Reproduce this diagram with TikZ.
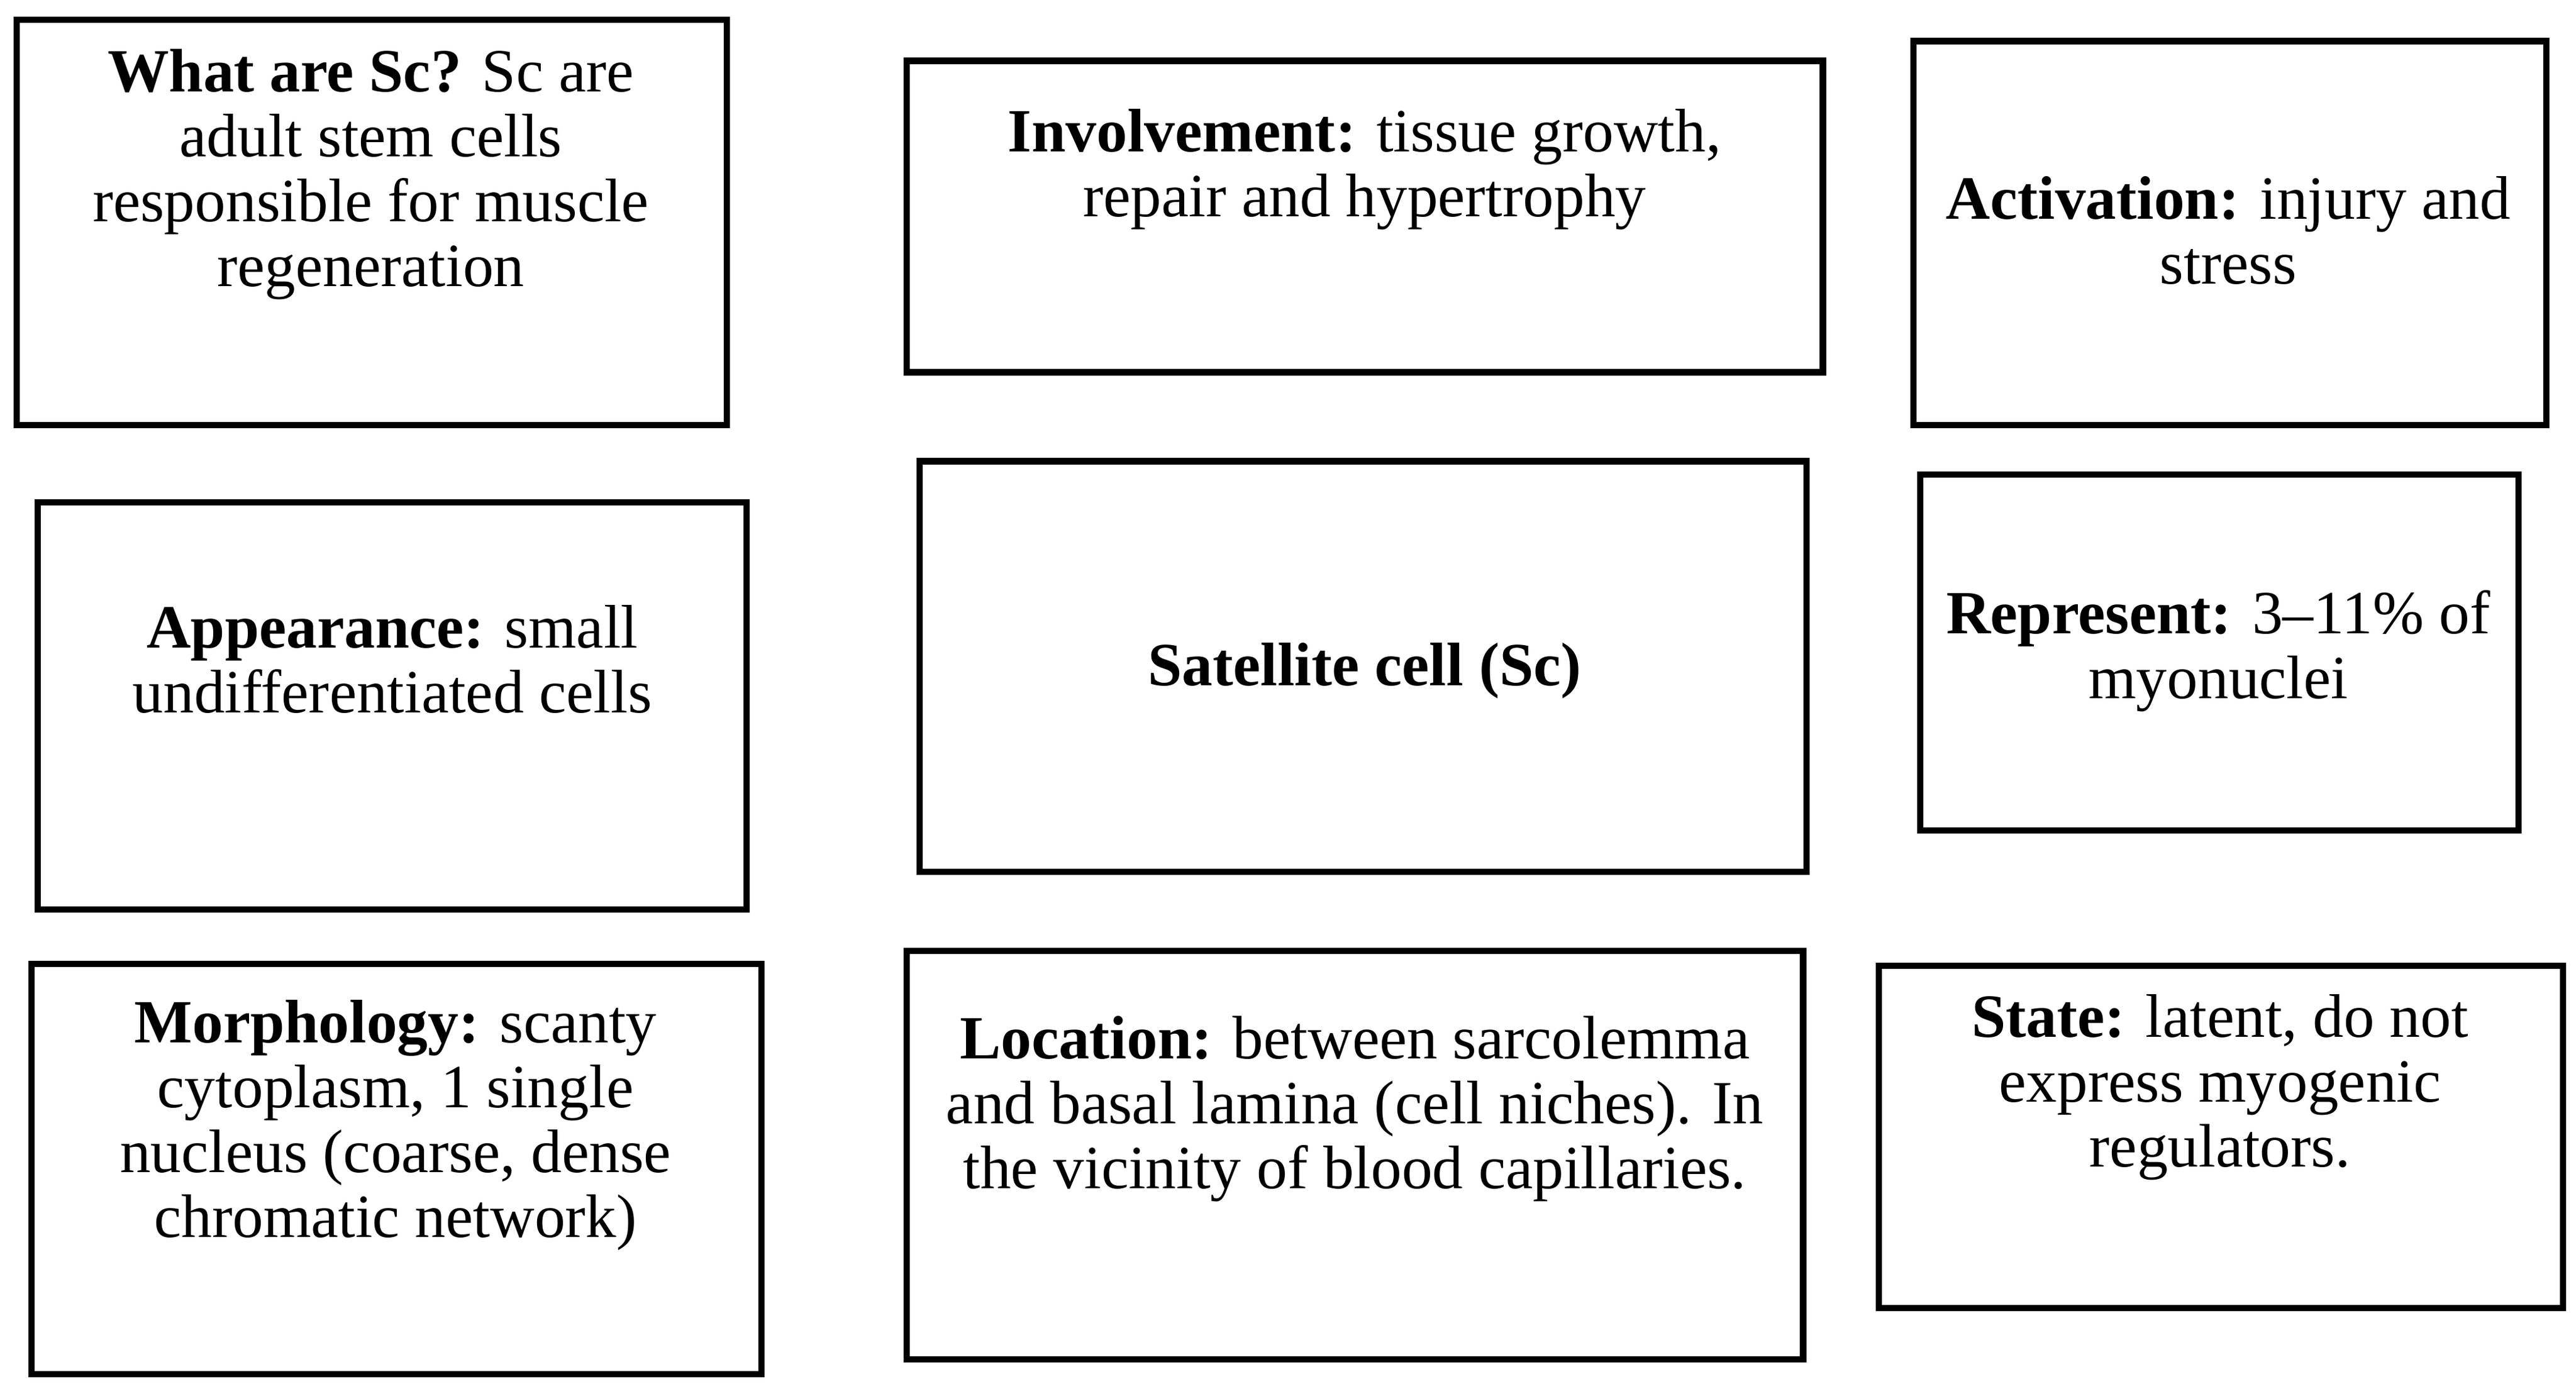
\documentclass[tikz,border=0pt]{standalone}
\usepackage{fontspec}
\setmainfont{Liberation Serif}
\begin{document}
\begin{tikzpicture}[x=0.01cm,y=-0.01cm,
  boxst/.style={draw=black,line width=1.1pt},
  txt/.style={align=center,font=\fontsize{10.6}{11.2}\selectfont,inner sep=0pt}]
\useasboundingbox (0,0) rectangle (1563,843);
\draw[boxst] (10,12) rectangle (441,258) coordinate (b1);
\draw[boxst] (550,37) rectangle (1106,226) coordinate (b2);
\draw[boxst] (1161,25) rectangle (1545,258) coordinate (b3);
\draw[boxst] (23,305) rectangle (453,552) coordinate (b4);
\draw[boxst] (558,280) rectangle (1096,529) coordinate (b5);
\draw[boxst] (1165,288) rectangle (1528,504) coordinate (b6);
\draw[boxst] (19,585) rectangle (462,834) coordinate (b7);
\draw[boxst] (550,577) rectangle (1094,825) coordinate (b8);
\draw[boxst] (1140,586) rectangle (1555,794) coordinate (b9);
\node[txt] (t1) at (225,106) {\textbf{What are Sc?} Sc are\\adult stem cells\\responsible for muscle\\regeneration};
\node[txt] (t2) at (828,103) {\textbf{Involvement:} tissue growth,\\repair and hypertrophy};
\node[txt] (t3) at (1352,140) {\textbf{Activation:} injury and\\stress};
\node[txt] (t4) at (238,400) {\textbf{Appearance:} small\\undifferentiated cells};
\node[txt] (t5) at (828,407) {\textbf{Satellite cell (Sc)}};
\node[txt] (t6) at (1346,395) {\textbf{Represent:} 3–11\% of\\myonuclei};
\node[txt] (t7) at (240,683) {\textbf{Morphology:} scanty\\cytoplasm, 1 single\\nucleus (coarse, dense\\chromatic network)};
\node[txt] (t8) at (822,673) {\textbf{Location:} between sarcolemma\\and basal lamina (cell niches). In\\the vicinity of blood capillaries.};
\node[txt] (t9) at (1347,660) {\textbf{State:} latent, do not\\express myogenic\\regulators.};
\end{tikzpicture}
\end{document}
